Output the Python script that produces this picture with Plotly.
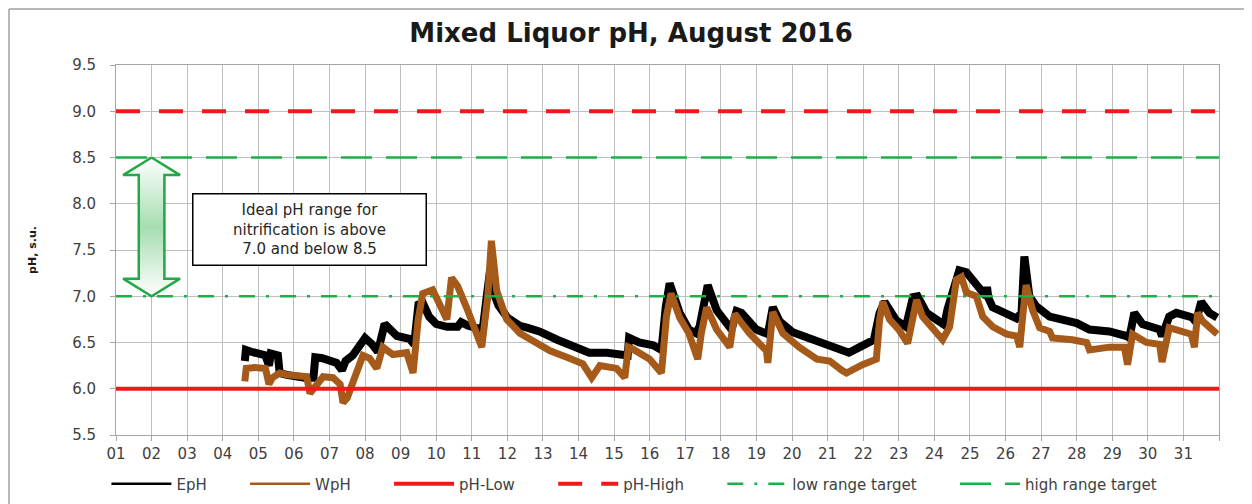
import plotly.graph_objects as go

# ---------------- data ----------------
EPH_DAY = [4.62, 4.65, 4.8, 5.0, 5.2, 5.3, 5.35, 5.55, 5.6, 5.8, 6.0, 6.3, 6.55, 6.6, 6.8, 7.0, 7.2,
           7.35, 7.45, 7.65, 7.85, 8.0, 8.2, 8.36, 8.55, 8.7, 8.9, 9.25, 9.38, 9.5, 9.62, 9.8, 10.0,
           10.3, 10.6, 10.7, 10.9, 11.2, 11.3, 11.42, 11.52, 11.6, 11.75, 12.0, 12.35, 12.55, 12.9,
           13.4, 13.85, 14.3, 14.8, 15.25, 15.38, 15.42, 15.7, 16.1, 16.33, 16.45, 16.56, 16.84, 17.1,
           17.3, 17.4, 17.63, 17.88, 18.16, 18.3, 18.44, 18.58, 19.0, 19.32, 19.46, 19.65, 20.02, 20.5,
           20.97, 21.25, 21.6, 21.9, 22.3, 22.46, 22.6, 22.93, 23.2, 23.4, 23.53, 23.78, 24.15, 24.28,
           24.37, 24.57, 24.7, 24.9, 25.07, 25.27, 25.45, 25.48, 25.52, 25.64, 26.03, 26.31, 26.45,
           26.53, 26.67, 26.87, 27.24, 27.6, 28.0, 28.36, 28.92, 29.4, 29.48, 29.62, 29.85, 30.33,
           30.4, 30.6, 30.8, 31.25, 31.35, 31.5, 31.73, 31.95]
EPH_VAL = [6.30, 6.42, 6.40, 6.37, 6.36, 6.25, 6.38, 6.36, 6.17, 6.15, 6.13, 6.12, 6.12, 6.34, 6.33,
           6.30, 6.28, 6.20, 6.30, 6.36, 6.47, 6.55, 6.48, 6.40, 6.70, 6.63, 6.57, 6.54, 6.48, 6.91,
           6.93, 6.78, 6.70, 6.67, 6.67, 6.72, 6.68, 6.65, 6.62, 7.00, 7.30, 7.05, 6.90, 6.77, 6.68,
           6.66, 6.62, 6.53, 6.46, 6.39, 6.39, 6.35, 6.36, 6.55, 6.50, 6.47, 6.42, 6.88, 7.14, 6.82,
           6.64, 6.60, 6.67, 7.12, 6.85, 6.71, 6.64, 6.84, 6.82, 6.64, 6.59, 6.88, 6.73, 6.61, 6.54,
           6.49, 6.45, 6.39, 6.45, 6.53, 6.82, 6.94, 6.74, 6.67, 6.99, 7.00, 6.82, 6.71, 6.69, 6.86,
           7.09, 7.28, 7.26, 7.17, 7.08, 7.00, 7.10, 6.98, 6.88, 6.81, 6.76, 6.82, 7.43, 7.00, 6.89,
           6.78, 6.75, 6.71, 6.64, 6.62, 6.57, 6.55, 6.82, 6.70, 6.64, 6.57, 6.78, 6.82, 6.77, 6.72,
           6.94, 6.82, 6.77]

WPH_DAY = [4.62, 4.66, 4.9, 5.2, 5.3, 5.4, 5.6, 5.8, 6.1, 6.36, 6.45, 6.64, 6.82, 7.1, 7.3, 7.38,
           7.5, 7.63, 7.8, 7.94, 8.13, 8.33, 8.5, 8.78, 9.17, 9.35, 9.49, 9.62, 9.9, 10.2, 10.3, 10.43,
           10.6, 10.85, 11.28, 11.45, 11.55, 11.7, 11.98, 12.35, 12.7, 13.2, 13.67, 14.12, 14.37, 14.6,
           15.07, 15.3, 15.4, 15.52, 16.0, 16.33, 16.47, 16.6, 16.84, 17.1, 17.35, 17.45, 17.6, 17.88,
           18.25, 18.39, 18.8, 19.28, 19.32, 19.46, 19.74, 20.2, 20.7, 21.06, 21.4, 21.53, 21.98, 22.37,
           22.46, 22.55, 22.74, 23.0, 23.25, 23.5, 23.67, 23.95, 24.23, 24.43, 24.62, 24.76, 24.9,
           25.18, 25.36, 25.64, 26.03, 26.31, 26.4, 26.5, 26.58, 26.76, 26.96, 27.24, 27.32, 27.88,
           28.28, 28.36, 28.92, 29.34, 29.43, 29.57, 29.96, 30.33, 30.4, 30.6, 30.9, 31.22, 31.31,
           31.4, 31.54, 31.95]
WPH_VAL = [6.08, 6.22, 6.23, 6.22, 6.05, 6.12, 6.17, 6.15, 6.14, 6.13, 5.95, 6.03, 6.13, 6.12, 6.05,
           5.85, 5.90, 6.04, 6.24, 6.36, 6.33, 6.22, 6.45, 6.37, 6.39, 6.17, 6.74, 7.03, 7.07, 6.85,
           6.75, 7.20, 7.11, 6.88, 6.45, 7.00, 7.60, 7.06, 6.75, 6.60, 6.52, 6.41, 6.34, 6.27, 6.12,
           6.25, 6.22, 6.12, 6.45, 6.43, 6.32, 6.17, 6.78, 7.03, 6.77, 6.60, 6.32, 6.60, 6.88, 6.64,
           6.45, 6.81, 6.60, 6.41, 6.28, 6.83, 6.60, 6.45, 6.32, 6.30, 6.20, 6.17, 6.26, 6.32, 6.74,
           6.94, 6.75, 6.64, 6.49, 6.96, 6.78, 6.66, 6.53, 6.67, 7.18, 7.21, 7.04, 7.00, 6.78, 6.67,
           6.59, 6.57, 6.45, 6.85, 7.12, 6.85, 6.66, 6.62, 6.55, 6.53, 6.50, 6.42, 6.45, 6.45, 6.26,
           6.59, 6.50, 6.48, 6.29, 6.66, 6.62, 6.59, 6.45, 6.82, 6.73, 6.59]

PH_LOW = 6.0
PH_HIGH = 9.0
LOW_TARGET = 7.0
HIGH_TARGET = 8.5
MONTH_START, MONTH_END = 1, 32
DAY_TICKS = list(range(1, 33))
DAY_LABELS = [f"{d:02d}" for d in range(1, 32)] + [""]

TITLE = "Mixed Liquor pH, August 2016"
NOTE = "Ideal pH range for<br>nitrification is above<br>7.0 and below 8.5"

FONT = "DejaVu Sans"
GRID = "#BFBFBF"
RED = "#F01818"
GREEN = "#1DB04A"
BROWN = "#A65A1A"
PAD = "\u00a0" * 7  # extra room between legend entries

# figure geometry (page body adds an 8 px offset)
FIG_W, FIG_H = 1244, 496
M_L, M_R, M_T, M_B = 108, 33, 57, 69
PLOT_W = FIG_W - M_L - M_R
PLOT_H = FIG_H - M_T - M_B

fig = go.Figure()

# data lines (drawn first, reference lines go on top as in the original)
fig.add_trace(go.Scatter(x=EPH_DAY, y=EPH_VAL, mode="lines", name="EpH", legendgroup="e",
                         showlegend=False, line=dict(color="#000000", width=8)))
fig.add_trace(go.Scatter(x=WPH_DAY, y=WPH_VAL, mode="lines", name="WpH", legendgroup="w",
                         showlegend=False, line=dict(color=BROWN, width=7)))
# legend entries for the data lines (thin legend keys)
fig.add_trace(go.Scatter(x=[None], y=[None], mode="lines", name="EpH" + PAD, legendgroup="e",
                         legendrank=1, line=dict(color="#000000", width=2.5)))
fig.add_trace(go.Scatter(x=[None], y=[None], mode="lines", name="WpH" + PAD, legendgroup="w",
                         legendrank=2, line=dict(color=BROWN, width=2.5)))

fig.add_trace(go.Scatter(x=[MONTH_START, MONTH_END], y=[PH_LOW, PH_LOW], mode="lines",
                         name="pH-Low" + PAD, legendrank=3,
                         line=dict(color=RED, width=4)))
fig.add_trace(go.Scatter(x=[MONTH_START, MONTH_END], y=[PH_HIGH, PH_HIGH], mode="lines",
                         name="pH-High" + PAD, legendrank=4,
                         line=dict(color=RED, width=4, dash="24px,19px")))
fig.add_trace(go.Scatter(x=[MONTH_START, MONTH_END], y=[LOW_TARGET, LOW_TARGET], mode="lines",
                         name="low range target" + PAD, legendrank=5,
                         line=dict(color=GREEN, width=2.5, dash="16px,11px,3px,11px")))
fig.add_trace(go.Scatter(x=[MONTH_START, MONTH_END], y=[HIGH_TARGET, HIGH_TARGET], mode="lines",
                         name="high range target", legendrank=6,
                         line=dict(color=GREEN, width=2.5, dash="31px,14px")))

# double-headed arrow between the two targets, centred on day 02
ac, shaft, head, hh = 2, 0.36, 0.8, 0.19
ax = [ac, ac + head, ac + shaft, ac + shaft, ac + head, ac, ac - head, ac - shaft, ac - shaft, ac - head, ac]
ay = [HIGH_TARGET, HIGH_TARGET - hh, HIGH_TARGET - hh, LOW_TARGET + hh, LOW_TARGET + hh, LOW_TARGET,
      LOW_TARGET + hh, LOW_TARGET + hh, HIGH_TARGET - hh, HIGH_TARGET - hh, HIGH_TARGET]
fig.add_trace(go.Scatter(x=ax, y=ay, mode="lines", fill="toself", showlegend=False, hoverinfo="skip",
                         line=dict(color="#22A845", width=2.5),
                         fillgradient=dict(type="vertical",
                                           colorscale=[[0, "#FFFFFF"], [0.5, "#A6DDB0"], [1, "#FFFFFF"]])))

fig.add_annotation(x=6.45, y=7.72, xref="x", yref="y", text=NOTE, showarrow=False,
                   font=dict(family=FONT, size=15, color="#262626"), align="center",
                   bordercolor="#000000", borderwidth=1.5, borderpad=3, bgcolor="#FFFFFF",
                   width=226, height=64)

# outer chart frame (left and top edges visible), at the figure edges
fx = -(M_L - 1) / PLOT_W
fy = 1 + (M_T - 1) / PLOT_H
fig.add_shape(type="line", xref="paper", yref="paper", x0=fx, x1=1 + M_R / PLOT_W, y0=fy, y1=fy,
              line=dict(color="#A0A0A0", width=1.5))
fig.add_shape(type="line", xref="paper", yref="paper", x0=fx, x1=fx, y0=fy, y1=-M_B / PLOT_H,
              line=dict(color="#A0A0A0", width=1.5))

fig.update_layout(
    width=FIG_W, height=FIG_H,
    margin=dict(l=M_L, r=M_R, t=M_T, b=M_B, autoexpand=False),
    paper_bgcolor="#FFFFFF", plot_bgcolor="#FFFFFF",
    font=dict(family=FONT, color="#404040"),
    title=dict(text=f"<b>{TITLE}</b>", x=0.467, xref="paper", xanchor="center",
               y=0.9496, yref="container", yanchor="middle",
               font=dict(family=FONT, size=26, color="#1A1A1A")),
    legend=dict(orientation="h", x=0.47, xanchor="center", xref="paper",
                y=1 - (484 - 8) / FIG_H, yref="container", yanchor="middle",
                font=dict(family=FONT, size=15, color="#404040"), itemwidth=60,
                traceorder="normal", bgcolor="rgba(0,0,0,0)"),
    showlegend=True,
)
fig.update_xaxes(range=[MONTH_START, MONTH_END], tickmode="array", tickvals=DAY_TICKS, ticktext=DAY_LABELS,
                 showgrid=True, gridcolor=GRID, gridwidth=1, zeroline=False, automargin=False,
                 showline=True, linecolor="#A6A6A6", linewidth=1, mirror=True,
                 ticks="outside", ticklen=5, tickcolor="#A6A6A6", ticklabelstandoff=0,
                 tickfont=dict(family=FONT, size=15, color="#404040"))
fig.update_yaxes(range=[5.5, 9.5], dtick=0.5, tick0=5.5, tickformat=".1f",
                 showgrid=True, gridcolor=GRID, gridwidth=1, zeroline=False, automargin=False,
                 showline=True, linecolor="#A6A6A6", linewidth=1, mirror=True,
                 ticks="outside", ticklen=5, tickcolor="#A6A6A6", ticklabelstandoff=11,
                 tickfont=dict(family=FONT, size=15, color="#404040"),
                 title=dict(text="<b>pH, s.u.</b>", standoff=33,
                            font=dict(family=FONT, size=11, color="#1A1A1A")))

fig.write_html("out.html")
